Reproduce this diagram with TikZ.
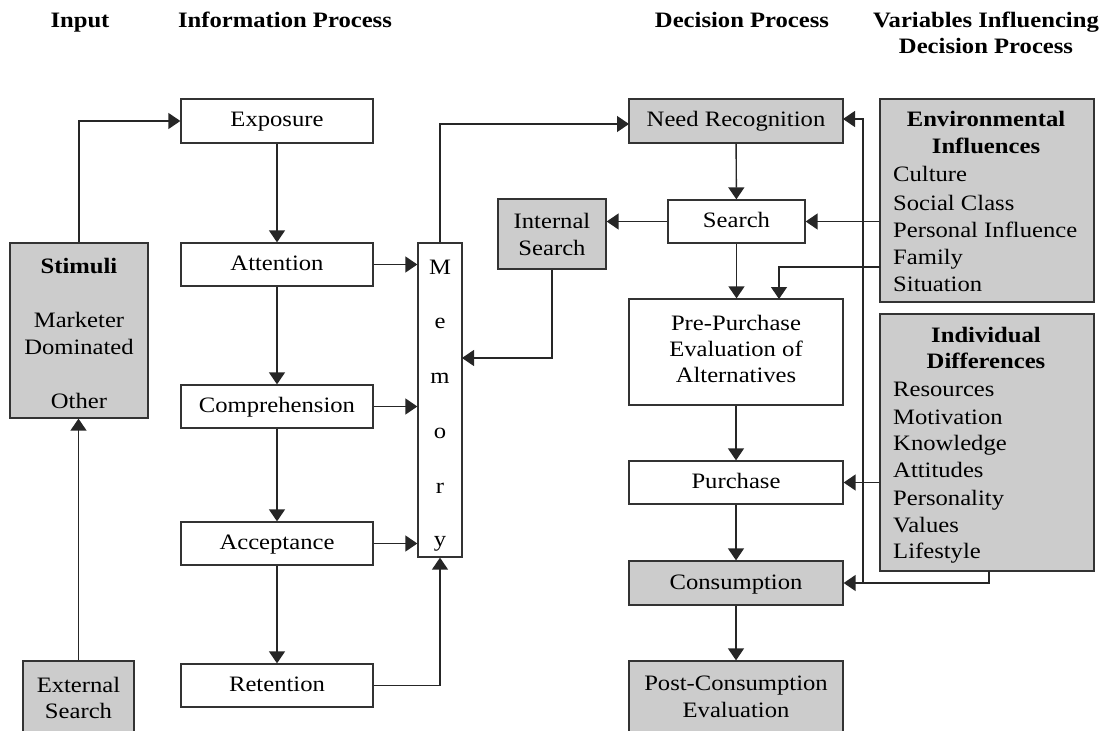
\documentclass[tikz,border=0pt]{standalone}
\usepackage{fontspec}
\setmainfont{Liberation Serif}[FakeStretch=1.12]
\usetikzlibrary{arrows.meta,calc}
\tikzset{
  box/.style={draw=black!80, line width=1.3pt, fill=white, inner sep=0pt, align=center,
    font=\fontsize{22}{26.5}\selectfont},
  lbl/.style={text height=16pt, text depth=4pt},
  gbox/.style={box, fill=black!20},
  txt/.style={inner sep=0pt, font=\fontsize{22}{26.5}\selectfont, text height=16pt, text depth=4pt},
  btxt/.style={txt, font=\fontsize{22}{26.5}\selectfont\bfseries},
  hd/.style={txt, font=\fontsize{22}{26}\selectfont\bfseries},
  arr/.style={line width=1.4pt, draw=black!85, -{Triangle[length=12pt,width=16pt]}},
}
\begin{document}
\begin{tikzpicture}[x=1pt,y=-1pt]
\useasboundingbox (0,0) rectangle (1107,730);
% headings
\node[hd] (h1) at (80,22) {Input};
\node[hd] (h2) at (285,22) {Information Process};
\node[hd] (h3) at (742,22) {Decision Process};
\node[hd] (h4) at (986,22) {Variables Influencing};
\node[hd] (h5) at (986,48) {Decision Process};
% input column
\node[gbox, minimum width=138pt, minimum height=175pt] (stim) at (79,330.5) {};
\node[btxt] (s1) at (79,267) {Stimuli};
\node[txt] (s2) at (79,321) {Marketer};
\node[txt] (s3) at (79,348) {Dominated};
\node[txt] (s4) at (79,402) {Other};
\node[gbox, minimum width=111pt, minimum height=80pt] (ext) at (78.5,701) {};
\node[txt] (e1) at (78.5,686) {External};
\node[txt] (e2) at (78.5,712) {Search};
% information process
\node[box, lbl, minimum width=192pt, minimum height=44pt] (exp) at (277,121) {Exposure};
\node[box, lbl, minimum width=192pt, minimum height=43pt] (att) at (277,264.5) {Attention};
\node[box, lbl, minimum width=192pt, minimum height=43pt] (comp) at (277,406.5) {Comprehension};
\node[box, lbl, minimum width=192pt, minimum height=43pt] (acc) at (277,543.5) {Acceptance};
\node[box, lbl, minimum width=192pt, minimum height=43pt] (ret) at (277,685.5) {Retention};
% memory
\node[box, minimum width=44pt, minimum height=314pt] (mem) at (440,400) {};
\node[txt] (m1) at (440,268) {M};
\node[txt] (m2) at (440,322) {e};
\node[txt] (m3) at (440,377) {m};
\node[txt] (m4) at (440,432) {o};
\node[txt] (m5) at (440,487) {r};
\node[txt] (m6) at (440,540) {y};
\node[gbox, minimum width=108pt, minimum height=70pt] (int) at (552,234) {};
\node[txt] (i1) at (552,222) {Internal};
\node[txt] (i2) at (552,249) {Search};
% decision process
\node[gbox, lbl, minimum width=214pt, minimum height=44pt] (need) at (736,121) {Need Recognition};
\node[box, lbl, minimum width=137pt, minimum height=43pt] (srch) at (736.5,221.5) {Search};
\node[box, minimum width=214pt, minimum height=106pt] (pre) at (736,352) {};
\node[txt] (q1) at (736,324) {Pre-Purchase};
\node[txt] (q2) at (736,350) {Evaluation of};
\node[txt] (q3) at (736,376) {Alternatives};
\node[box, lbl, minimum width=214pt, minimum height=43pt] (pur) at (736,482.5) {Purchase};
\node[gbox, lbl, minimum width=214pt, minimum height=44pt] (cons) at (736,583) {Consumption};
\node[gbox, minimum width=214pt, minimum height=80pt] (post) at (736,701) {};
\node[txt] (p1) at (736,684) {Post-Consumption};
\node[txt] (p2) at (736,711) {Evaluation};
% variables
\node[gbox, minimum width=214pt, minimum height=203pt] (env) at (987,200.5) {};
\node[btxt] (v1) at (986,121) {Environmental};
\node[btxt] (v2) at (986,148) {Influences};
\node[txt, anchor=west] (v3) at (893,176) {Culture};
\node[txt, anchor=west] (v4) at (893,204) {Social Class};
\node[txt, anchor=west] (v5) at (893,231) {Personal Influence};
\node[txt, anchor=west] (v6) at (893,258) {Family};
\node[txt, anchor=west] (v7) at (893,285) {Situation};
\node[gbox, minimum width=214pt, minimum height=257pt] (ind) at (987,442.5) {};
\node[btxt] (d1) at (986,336) {Individual};
\node[btxt] (d2) at (986,362) {Differences};
\node[txt, anchor=west] (d3) at (893,390) {Resources};
\node[txt, anchor=west] (d4) at (893,418) {Motivation};
\node[txt, anchor=west] (d5) at (893,444) {Knowledge};
\node[txt, anchor=west] (d6) at (893,471) {Attitudes};
\node[txt, anchor=west] (d7) at (893,499) {Personality};
\node[txt, anchor=west] (d8) at (893,526) {Values};
\node[txt, anchor=west] (d9) at (893,552) {Lifestyle};
% coordinates
\coordinate (mi) at (462,358);
\coordinate (mt) at (440,124);
\coordinate (nl) at (629,124);
\coordinate (fa) at (880,267);
\coordinate (fb) at (779,299);
\coordinate (fd) at (863,583);
\coordinate (fe) at (843,119);
\coordinate (ib) at (989,571);
% connectors
\draw[arr] (stim.north) |- (exp.west);
\draw[arr] (ext.north) -- (ext.north |- stim.south);
\draw[arr] (exp) -- (att);
\draw[arr] (att) -- (comp);
\draw[arr] (comp) -- (acc);
\draw[arr] (acc) -- (ret);
\draw[arr] (att.east) -- (att.east -| mem.west);
\draw[arr] (comp.east) -- (comp.east -| mem.west);
\draw[arr] (acc.east) -- (acc.east -| mem.west);
\draw[arr] (ret.east) -| (mem.south);
\draw[arr] (mem.north) -- (mt) -- (nl);
\draw[arr] (int.south) |- (mi);
\draw[arr] (srch.west) -- (srch.west -| int.east);
\draw[arr] (need) -- (srch);
\draw[arr] (srch) -- (srch |- pre.north);
\draw[arr] (env.west |- srch.east) -- (srch.east);
\draw[arr] (fa) -| (fb);
\draw[arr] (pre) -- (pur);
\draw[arr] (ind.west |- pur.east) -- (pur.east);
\draw[arr] (pur) -- (cons);
\draw[arr] (cons) -- (cons |- post.north);
\draw[arr] (ib) |- (cons.east);
\draw[arr] (fd) |- (fe);
\end{tikzpicture}
\end{document}
